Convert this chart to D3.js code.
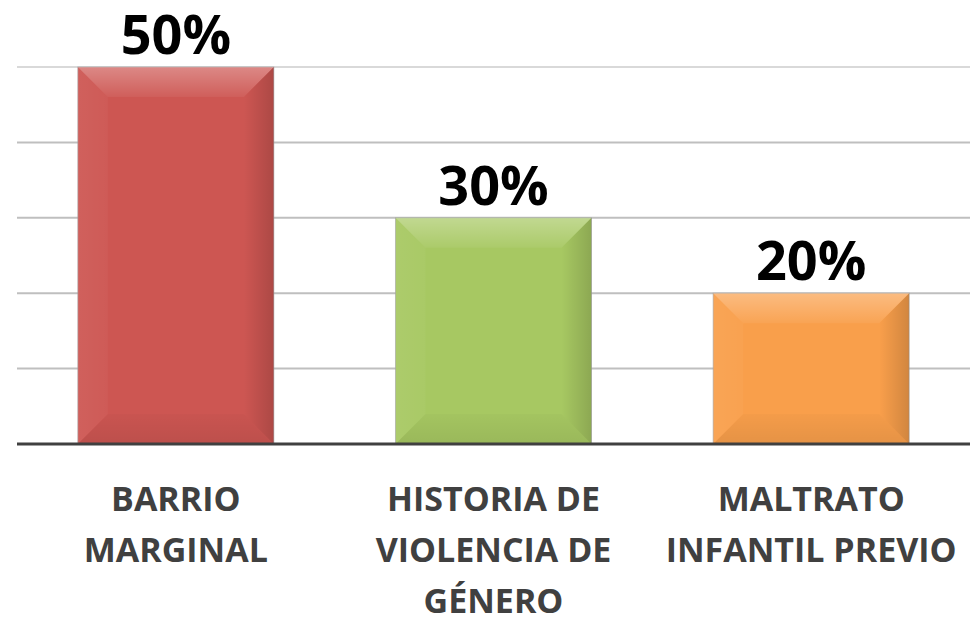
<!DOCTYPE html>
<html>
<head>
<meta charset="utf-8">
<script src="https://cdn.jsdelivr.net/npm/d3@7"></script>
<style>
  html, body { margin: 0; padding: 0; background: #fff; }
  svg { display: block; }
</style>
</head>
<body>
<div id="chart"></div>
<script>
// data
const categories = ["BARRIO MARGINAL", "HISTORIA DE VIOLENCIA DE GÉNERO", "MALTRATO INFANTIL PREVIO"];
const labelLines = [["BARRIO", "MARGINAL"], ["HISTORIA DE", "VIOLENCIA DE", "GÉNERO"], ["MALTRATO", "INFANTIL PREVIO"]];
const values = [50, 30, 20];
const valueLabels = ["50%", "30%", "20%"];
const gridTicks = [10, 20, 30, 40, 50];
const barColors = ["#CD5652", "#A7C862", "#F99F4B"];

const width = 976, height = 620;
const plot = { left: 17, right: 970, top: 67, bottom: 444 };

const svg = d3.select("#chart").append("svg")
    .attr("width", width)
    .attr("height", height);

const x = d3.scaleBand()
    .domain(categories)
    .range([plot.left, plot.right])
    .paddingInner(0.383)
    .paddingOuter(0.1915);

const y = d3.scaleLinear()
    .domain([0, 50])
    .range([plot.bottom, plot.top]);

// gradients for the bevel
const defs = svg.append("defs");
function gradient(id, vertical, color, o1, o2) {
    let g = defs.append("linearGradient").attr("id", id)
        .attr("x1", 0).attr("y1", 0)
        .attr("x2", vertical ? 0 : 1).attr("y2", vertical ? 1 : 0);
    g.append("stop").attr("offset", "0%").attr("stop-color", color).attr("stop-opacity", o1);
    g.append("stop").attr("offset", "100%").attr("stop-color", color).attr("stop-opacity", o2);
}
gradient("bevTop", true, "#fff", 0.3, 0.05);
gradient("bevRight", false, "#000", 0.0, 0.16);
gradient("bevLeft", false, "#fff", 0.06, 0.03);
gradient("bevBottom", true, "#000", 0.02, 0.08);

// gridlines
svg.append("g")
    .selectAll("line")
    .data(gridTicks)
    .enter()
    .append("line")
    .attr("x1", plot.left)
    .attr("x2", plot.right)
    .attr("y1", d => y(d))
    .attr("y2", d => y(d))
    .attr("stroke", (d, i) => i == gridTicks.length - 1 ? "#d9d9d9" : "#bfbfbf")
    .attr("stroke-width", 2);

// bars
const bars = svg.append("g")
    .selectAll("g")
    .data(values)
    .enter()
    .append("g");

bars.append("rect")
    .attr("x", (d, i) => x(categories[i]))
    .attr("y", d => y(d))
    .attr("width", x.bandwidth())
    .attr("height", d => y(0) - y(d))
    .attr("fill", (d, i) => barColors[i])
    .attr("stroke", "#a0a0a0")
    .attr("stroke-opacity", 0.6)
    .attr("stroke-width", 1);

function bevel(d, i, side) {
    let x0 = x(categories[i]), x1 = x0 + x.bandwidth();
    let y0 = y(d), y1 = y(0);
    let b = Math.min(30, (y1 - y0) / 2);
    let p;
    if (side == "Top") p = [[x0, y0], [x1, y0], [x1 - b, y0 + b], [x0 + b, y0 + b]];
    if (side == "Bottom") p = [[x0 + b, y1 - b], [x1 - b, y1 - b], [x1, y1], [x0, y1]];
    if (side == "Left") p = [[x0, y0], [x0 + b, y0 + b], [x0 + b, y1 - b], [x0, y1]];
    if (side == "Right") p = [[x1, y0], [x1, y1], [x1 - b, y1 - b], [x1 - b, y0 + b]];
    return p.map(q => q.join(",")).join(" ");
}

["Top", "Bottom", "Left", "Right"].forEach(side => {
    bars.append("polygon")
        .attr("points", (d, i) => bevel(d, i, side))
        .attr("fill", "url(#bev" + side + ")");
});

// baseline
svg.append("line")
    .attr("x1", plot.left)
    .attr("x2", plot.right)
    .attr("y1", y(0))
    .attr("y2", y(0))
    .attr("stroke", "#404040")
    .attr("stroke-width", 3);

// value labels
svg.append("g")
    .selectAll("text")
    .data(values)
    .enter()
    .append("text")
    .attr("x", (d, i) => x(categories[i]) + x.bandwidth() / 2)
    .attr("y", d => y(d) - 13)
    .attr("text-anchor", "middle")
    .attr("font-family", "'Open Sans', sans-serif")
    .attr("font-weight", "bold")
    .attr("font-size", "54px")
    .attr("fill", "#000")
    .text((d, i) => valueLabels[i]);

// category labels
const cats = svg.append("g")
    .selectAll("text")
    .data(categories)
    .enter()
    .append("text")
    .attr("text-anchor", "middle")
    .attr("font-family", "'Open Sans', sans-serif")
    .attr("font-weight", "bold")
    .attr("font-size", "34px")
    .attr("fill", "#404040");

cats.selectAll("tspan")
    .data((d, i) => labelLines[i].map(t => ({ t: t, c: d })))
    .enter()
    .append("tspan")
    .attr("x", d => x(d.c) + x.bandwidth() / 2)
    .attr("y", (d, j) => 511 + j * 51)
    .text(d => d.t);
</script>
</body>
</html>
